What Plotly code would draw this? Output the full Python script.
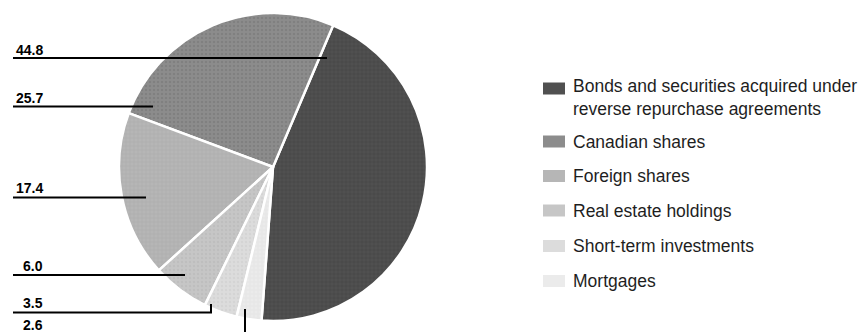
import plotly.graph_objects as go

categories = [
    "Bonds and securities acquired under<br>reverse repurchase agreements",
    "Canadian shares",
    "Foreign shares",
    "Real estate holdings",
    "Short-term investments",
    "Mortgages",
]
values = [44.8, 25.7, 17.4, 6.0, 3.5, 2.6]
value_labels = ["44.8", "25.7", "17.4", "6.0", "3.5", "2.6"]

W, H = 861, 332
colors = ["#505050", "#8c8c8c", "#b6b6b6", "#c6c6c6", "#dcdcdc", "#ebebeb"]
fg = ["#3a3a3a", "#747474", "#a6a6a6", "#b6b6b6", "#cccccc", "#dddddd"]
shapes_p = ["+", ".", "+", ".", ".", "+"]

cx, cy, r = 273, 167, 154
fig = go.Figure(go.Pie(
    labels=categories,
    values=values,
    sort=False,
    direction="counterclockwise",
    rotation=23,
    textinfo="none",
    hoverinfo="label+value",
    showlegend=False,
    marker=dict(
        colors=colors,
        line=dict(color="white", width=2.5),
        pattern=dict(shape=shapes_p, fgcolor=fg, bgcolor=colors, size=4, solidity=0.3, fillmode="overlay"),
    ),
    domain=dict(x=[(cx - r) / W, (cx + r) / W], y=[(H - cy - r) / H, (H - cy + r) / H]),
))


def px(x):
    return x / W


def py(y):
    return 1 - y / H


FONT = "Liberation Sans, Arial, sans-serif"

# value labels with leader lines (pixel positions = style only)
label_text_y = [50, 98, 188, 266, 303, 325]
leader_paths = [
    [(13, 58), (327, 58)],
    [(13, 106.5), (153, 106.5)],
    [(13, 197.5), (146, 197.5)],
    [(13, 275), (185, 275)],
    [(13, 312.5), (211, 312.5), (211, 304)],
    [(245, 332), (245, 309)],
]

shapes = []
for path in leader_paths:
    d = "M " + " L ".join(f"{px(x):.5f},{py(y):.5f}" for x, y in path)
    shapes.append(dict(type="path", xref="paper", yref="paper", path=d,
                       line=dict(color="black", width=2)))

annotations = []
for txt, ty in zip(value_labels, label_text_y):
    annotations.append(dict(
        text=f"<b>{txt}</b>", x=px(45), y=py(ty), xref="paper", yref="paper",
        xanchor="right", yanchor="middle", showarrow=False,
        font=dict(family=FONT, size=14, color="black"),
    ))

# legend (swatch + text)
legend_y = [88.5, 141.5, 176, 210.5, 246, 281]
line_gap = 18
for name, col, ly in zip(categories, colors, legend_y):
    shapes.append(dict(type="rect", xref="paper", yref="paper",
                       x0=px(543), x1=px(565), y0=py(ly - 6), y1=py(ly + 6),
                       fillcolor=col, line=dict(width=0)))
    n_lines = name.count("<br>")
    annotations.append(dict(
        text=name, x=px(571), y=py(ly + n_lines * line_gap / 2), xref="paper", yref="paper",
        xanchor="left", yanchor="middle", align="left", showarrow=False,
        font=dict(family=FONT, size=17.5, color="#1e1e1e"),
    ))

fig.update_layout(
    width=W, height=H,
    margin=dict(l=0, r=0, t=0, b=0),
    paper_bgcolor="white", plot_bgcolor="white",
    showlegend=False,
    shapes=shapes,
    annotations=annotations,
)

fig.write_html("out.html")
